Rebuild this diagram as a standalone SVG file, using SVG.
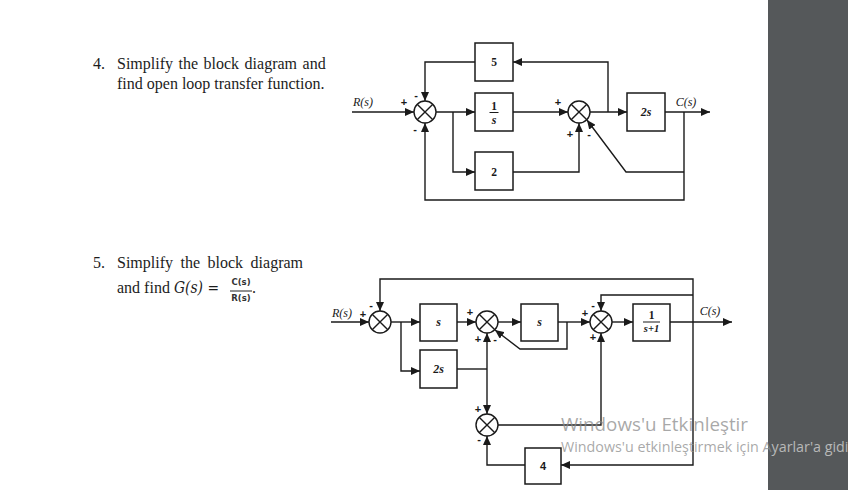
<svg xmlns="http://www.w3.org/2000/svg" width="848" height="490" viewBox="0 0 848 490">
<style>
.q{font:16px "Liberation Serif",serif;fill:#1c1c1c}
.m{font:italic 16px "DejaVu Serif","Liberation Serif",serif;fill:#1c1c1c}
.f{font:bold 8.5px "DejaVu Sans","Liberation Sans",sans-serif;fill:#333;text-anchor:middle}
.b{fill:#fff;stroke:#1a1a1a;stroke-width:1.5}
.c{fill:none;stroke:#1a1a1a;stroke-width:1.4}
.a{marker-end:url(#h)}
.s{fill:#fff;stroke:#1a1a1a;stroke-width:1.4}
.t{font:bold 11.5px "Liberation Serif",serif;fill:#1a1a1a;text-anchor:middle}
.i{font:italic 12px "Liberation Serif",serif;fill:#1a1a1a;text-anchor:middle}
.j{font:italic bold 12px "Liberation Serif",serif;fill:#1a1a1a;text-anchor:middle}
.k{font:italic bold 10.5px "Liberation Serif",serif;fill:#1a1a1a;text-anchor:middle}
.g{font:bold 11px "Liberation Sans",sans-serif;fill:#1a1a1a;text-anchor:middle}
.w1{font:18.800px "Open Sans","DejaVu Sans",sans-serif;fill:#8c8c8c;fill-opacity:.75}
.w2{font:14.300px "Open Sans","DejaVu Sans",sans-serif;fill:#8c8c8c;fill-opacity:.75}
</style>
<defs>
<marker id="h" markerUnits="userSpaceOnUse" markerWidth="9" markerHeight="8" refX="9" refY="4" orient="auto"><path d="M0 0L9 4L0 8z" fill="#1a1a1a"/></marker>
<g id="x"><circle r="11" class="s"/><path d="M-7.8-7.8L7.8 7.8M-7.8 7.8L7.8-7.8" class="c"/></g>
</defs>
<rect width="848" height="490" fill="#fff"/>
<rect x="768" width="80" height="490" fill="#55585a"/>

<g id="question-4">
<text x="93" y="69" class="q">4.</text>
<text x="117" y="69" class="q" word-spacing="1.5">Simplify the block diagram and</text>
<text x="117" y="89" class="q">find open loop transfer function.</text>
</g>
<g id="question-5">
<text x="93" y="268" class="q">5.</text>
<text x="117" y="268" class="q" word-spacing="3.500">Simplify the block diagram</text>
<text x="117" y="293" class="q">and find</text>
<text x="174" y="293" class="m" textLength="45" lengthAdjust="spacingAndGlyphs">G(s) =</text>
<text x="241" y="285" class="f">C(s)</text>
<path d="M230 291H252" stroke="#222" stroke-width="1"/>
<text x="241" y="301" class="f">R(s)</text>
<text x="252" y="293" class="q">.</text>
</g>

<g id="connectors-1">
<path class="c a" d="M352 112H414"/>
<path class="c a" d="M436 112H475"/>
<path class="c a" d="M453 112V172H475"/>
<path class="c a" d="M513 112H568"/>
<path class="c a" d="M513 172H579V123"/>
<path class="c a" d="M590 112H627"/>
<path class="c a" d="M608 112V62H513"/>
<path class="c a" d="M475 62H425V101"/>
<path class="c a" d="M665 112H710"/>
<path class="c a" d="M684 112V200H425V123"/>
<path class="c a" d="M684 172H626L587 120"/>
</g>
<g id="sum-1a"><use href="#x" x="425" y="112"/></g>
<g id="sum-1b"><use href="#x" x="579" y="112"/></g>
<g id="block-5"><rect class="b" x="475" y="43" width="38" height="38"/><text class="t" x="494" y="66">5</text></g>
<g id="block-1s"><rect class="b" x="475" y="93" width="38" height="38"/><text class="t" x="494" y="110">1</text><path d="M489.500 112.500H498.500" stroke="#1a1a1a"/><text class="j" x="494" y="124">s</text></g>
<g id="block-2"><rect class="b" x="475" y="152" width="38" height="38"/><text class="t" x="494" y="176">2</text></g>
<g id="block-2s"><rect class="b" x="627" y="93" width="38" height="38"/><text class="j" x="646" y="116">2s</text></g>
<g id="labels-1">
<text class="i" x="363" y="106">R(s)</text>
<text class="i" x="686" y="106">C(s)</text>
<text class="g" x="404" y="106">+</text>
<text class="g" x="416" y="99">-</text>
<text class="g" x="415" y="133">-</text>
<text class="g" x="558" y="106">+</text>
<text class="g" x="570" y="138">+</text>
<text class="g" x="589" y="138">-</text>
</g>

<g id="connectors-2">
<path class="c a" d="M331 322H369"/>
<path class="c a" d="M391 322H420"/>
<path class="c a" d="M401 322V371H420"/>
<path class="c a" d="M457 322H476"/>
<path class="c a" d="M498 322H521"/>
<path class="c a" d="M558 322H590"/>
<path class="c a" d="M567 322V349H520L495 330"/>
<path class="c a" d="M612 322H633"/>
<path class="c a" d="M670 322H732"/>
<path class="c a" d="M693 322V279H380V311"/>
<path class="c a" d="M693 295H601V311"/>
<path class="c a" d="M693 322V465H561"/>
<path class="c a" d="M525 465H487V436"/>
<path class="c" d="M457 369H487"/>
<path class="c a" d="M487 369V333"/>
<path class="c a" d="M487 369V414"/>
<path class="c a" d="M498 425H601V333"/>
</g>
<g id="sum-2a"><use href="#x" x="380" y="322"/></g>
<g id="sum-2b"><use href="#x" x="487" y="322"/></g>
<g id="sum-2c"><use href="#x" x="601" y="322"/></g>
<g id="sum-2d"><use href="#x" x="487" y="425"/></g>
<g id="block-s1"><rect class="b" x="420" y="304" width="37" height="37"/><text class="j" x="438.500" y="326">s</text></g>
<g id="block-s2"><rect class="b" x="521" y="304" width="37" height="37"/><text class="j" x="539.500" y="326">s</text></g>
<g id="block-1s1"><rect class="b" x="633" y="304" width="37" height="37"/><text class="t" x="651.500" y="319">1</text><path d="M643 322H660" stroke="#1a1a1a"/><text class="k" x="651.500" y="332">s+1</text></g>
<g id="block-2s2"><rect class="b" x="420" y="350" width="37" height="38"/><text class="j" x="438.500" y="373">2s</text></g>
<g id="block-4"><rect class="b" x="525" y="448" width="36" height="36"/><text class="g" x="543" y="470">4</text></g>
<g id="labels-2">
<text class="i" x="342" y="317">R(s)</text>
<text class="i" x="710" y="315">C(s)</text>
<text class="g" x="363" y="318">+</text>
<text class="g" x="371" y="309">-</text>
<text class="g" x="470" y="316">+</text>
<text class="g" x="478" y="343">+</text>
<text class="g" x="495" y="343">-</text>
<text class="g" x="585" y="317">+</text>
<text class="g" x="593" y="309">-</text>
<text class="g" x="593" y="341">+</text>
<text class="g" x="478" y="413">+</text>
<text class="g" x="479" y="443">-</text>
</g>
<g id="watermark">
<text class="w1" x="561" y="431">Windows'u Etkinleştir</text>
<text class="w2" x="561" y="452">Windows'u etkinleştirmek için A<tspan fill="#b8b8b8" fill-opacity="1">yarlar'a gidi</tspan></text>
</g>
</svg>
